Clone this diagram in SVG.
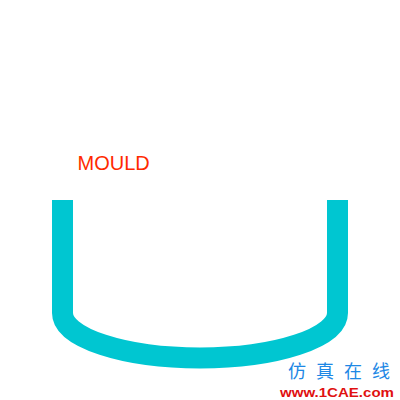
<svg xmlns="http://www.w3.org/2000/svg" width="400" height="400" viewBox="0 0 400 400">
<style>
.mould{fill:none;stroke:#00C6D1;stroke-width:21}
.lbl{font-family:"Liberation Sans",Arial,sans-serif;font-size:20px;fill:#FF2A00}
.wm1{font-family:"Noto Sans CJK SC",sans-serif;font-size:18px;fill:#1E88E5;letter-spacing:10px}
.wm2{font-family:"Liberation Sans",Arial,sans-serif;font-weight:bold;font-size:12.5px;fill:#E01010}
</style>
<rect width="400" height="400" fill="#ffffff"/>
<g id="mould">
<path class="mould" d="M62.5,200 V313 A137.5,45 0 0 0 337.5,313 V200"/>
</g>
<g id="label">
<text class="lbl" x="77.5" y="169.5">MOULD</text>
</g>
<g id="watermark">
<text class="wm1" x="288" y="378">仿真在线</text>
<text class="wm2" x="280" y="396.5" textLength="114" lengthAdjust="spacingAndGlyphs">www.1CAE.com</text>
</g>
</svg>
